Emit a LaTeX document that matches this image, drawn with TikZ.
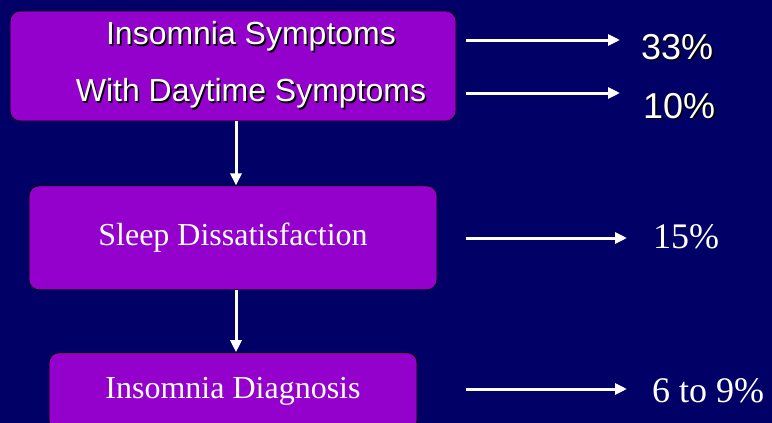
\documentclass[tikz,border=0pt]{standalone}
\usepackage{fontspec}
\setmainfont{Liberation Serif}
\setsansfont{Liberation Sans}
\usepackage{xcolor}
\usetikzlibrary{arrows.meta, positioning}

\definecolor{slidebg}{RGB}{0,0,102}
\definecolor{boxpurple}{RGB}{148,0,204}

% white text with a small black drop shadow
\newcommand{\shadowtxt}[1]{\makebox[0pt][l]{\hspace{1.6pt}\raisebox{-1.6pt}{\color{black}#1}}#1}

\begin{document}
\begin{tikzpicture}[
      x=1pt, y=-1pt,
      stage/.style={rectangle, draw=black, line width=0.8pt, fill=boxpurple, rounded corners=10pt,
                    text=white, inner sep=0pt},
      pct/.style  ={text=white, inner sep=0pt, anchor=base west},
      arr/.style  ={white, line width=3pt, -{Triangle[length=12pt, width=11pt]}},
      >=Stealth
    ]

    % Bakgrunn
    \path[use as bounding box, fill=slidebg] (0,0) rectangle (772,423);
    \clip (0,0) rectangle (772,423);

    % Trinn
    \node[stage, minimum width=446pt, minimum height=110pt, align=center,
          font=\sffamily\fontsize{32}{57}\selectfont] (SYM) at (233,66)
          {\hspace*{36pt}\shadowtxt{Insomnia Symptoms}\\ \hspace*{36pt}\shadowtxt{With Daytime Symptoms}};
    \node[stage, minimum width=408pt, minimum height=104pt, font=\fontsize{32}{36}\selectfont,
          below=64pt of SYM] (DIS) {Sleep Dissatisfaction};
    \node[stage, minimum width=368pt, minimum height=78pt, font=\fontsize{32}{36}\selectfont,
          below=62pt of DIS] (DIA) {Insomnia Diagnosis};

    % Piler nedover
    \draw[arr] ([xshift=3pt]SYM.south) -- ([xshift=3pt]DIS.north);
    \draw[arr] ([xshift=3pt]DIS.south) -- ([xshift=3pt]DIA.north);

    % Andeler
    \node[pct, font=\sffamily\fontsize{36}{40}\selectfont] (P33) at (641,59)  {\shadowtxt{33\%}};
    \node[pct, font=\sffamily\fontsize{36}{40}\selectfont] (P10) at (643,118) {\shadowtxt{10\%}};
    \node[pct, font=\fontsize{36}{40}\selectfont]          (P15) at (653,248) {15\%};
    \node[pct, font=\fontsize{36}{40}\selectfont]          (P69) at (652,402) {6 to 9\%};

    % Piler mot andelene
    \coordinate (s1) at (466,40);  \coordinate (e1) at (620,40);
    \coordinate (s2) at (466,93);  \coordinate (e2) at (620,93);
    \coordinate (s3) at (466,238); \coordinate (e3) at (627,238);
    \coordinate (s4) at (466,389); \coordinate (e4) at (627,389);
    \draw[arr] (s1) -- (e1);
    \draw[arr] (s2) -- (e2);
    \draw[arr] (s3) -- (e3);
    \draw[arr] (s4) -- (e4);

  \end{tikzpicture}
\end{document}
